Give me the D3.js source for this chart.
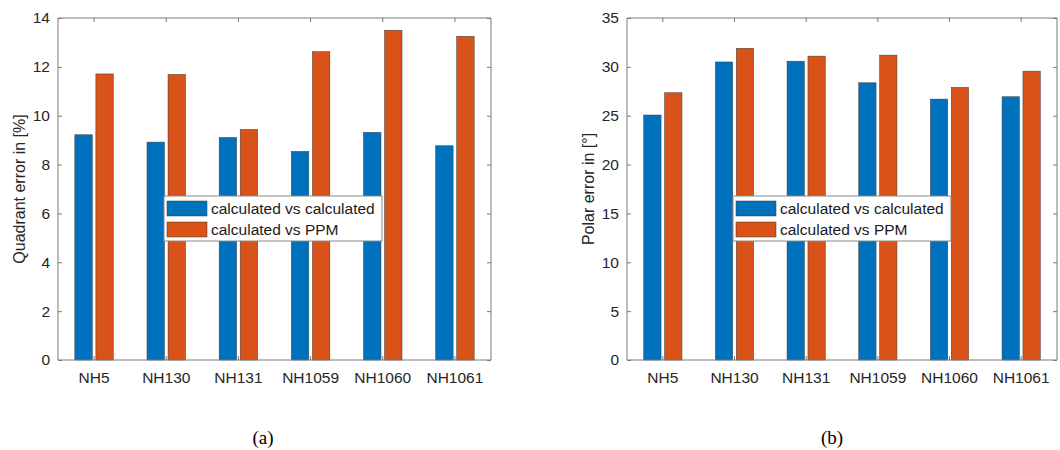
<!DOCTYPE html>
<html>
<head>
<meta charset="utf-8">
<script src="https://cdn.jsdelivr.net/npm/d3@7/dist/d3.min.js"></script>
<style>
  body { margin: 0; background: #fff; }
  svg text { font-family: "Liberation Sans", Arial, sans-serif; }
</style>
</head>
<body>
<svg id="chart" width="1060" height="450"></svg>
<script>
// --- data
const categories = ['NH5', 'NH130', 'NH131', 'NH1059', 'NH1060', 'NH1061'];
const seriesNames = ['calculated vs calculated', 'calculated vs PPM'];
const seriesColors = ['#0072BD', '#D95319'];

const quadrantCalc = [9.22, 8.92, 9.11, 8.54, 9.32, 8.77];
const quadrantPPM  = [11.71, 11.69, 9.44, 12.62, 13.50, 13.25];
const quadrantTicks = [0, 2, 4, 6, 8, 10, 12, 14];

const polarCalc = [25.07, 30.50, 30.58, 28.37, 26.70, 26.94];
const polarPPM  = [27.35, 31.90, 31.10, 31.20, 27.90, 29.56];
const polarTicks = [0, 5, 10, 15, 20, 25, 30, 35];

const svg = d3.select('#chart');

function panel(opts) {
  const top = 18, bottom = 360;
  const left = opts.left, right = opts.right;
  const g = svg.append('g');

  const x = d3.scaleBand().domain(categories).range([left, right]);
  const xs = d3.scaleBand().domain(d3.range(seriesNames.length))
      .range([0, x.bandwidth()]).paddingInner(0.17).paddingOuter(0.8);
  const y = d3.scaleLinear().domain([0, opts.max]).range([bottom, top]);

  const rows = categories.map((c, i) => ({c: c, v: [opts.a[i], opts.b[i]]}));

  // bars
  g.selectAll('g.grp').data(rows).enter().append('g')
      .attr('transform', d => `translate(${x(d.c)},0)`)
    .selectAll('rect').data(d => d.v).enter().append('rect')
      .attr('x', (d, i) => xs(i))
      .attr('width', xs.bandwidth())
      .attr('y', d => y(d))
      .attr('height', d => y(0) - y(d))
      .attr('fill', (d, i) => seriesColors[i])
      .attr('stroke', '#3a3a3a').attr('stroke-width', 0.5);

  const axisColor = '#7a7a7a';
  const tk = 4;
  // left axis
  const ya = g.append('g').attr('transform', `translate(${left},0)`)
      .call(d3.axisLeft(y).tickValues(opts.ticks).tickSize(-tk).tickPadding(8));
  // bottom axis
  const xa = g.append('g').attr('transform', `translate(0,${bottom})`)
      .call(d3.axisBottom(x).tickSize(-tk).tickPadding(12));
  // top & right mirror axes (ticks only)
  const ta = g.append('g').attr('transform', `translate(0,${top})`)
      .call(d3.axisTop(x).tickSize(-tk).tickFormat(''));
  const ra = g.append('g').attr('transform', `translate(${right},0)`)
      .call(d3.axisRight(y).tickValues(opts.ticks).tickSize(-tk).tickFormat(''));

  [ya, xa, ta, ra].forEach(a => {
    a.select('.domain').attr('stroke', axisColor).attr('stroke-width', 1);
    a.selectAll('.tick line').attr('stroke', axisColor);
    a.selectAll('.tick text').attr('fill', '#262626')
      .style('font-size', '15.5px').style('font-family', '"Liberation Sans", Arial, sans-serif');
  });
  // keep every box edge a plain straight line
  ra.select('.domain').attr('d', `M0,${top}V${bottom}`);
  ta.select('.domain').attr('d', `M${left},0H${right}`);
  ya.select('.domain').attr('d', `M0,${top}V${bottom}`);
  xa.select('.domain').attr('d', `M${left},0H${right}`);

  // y label
  g.append('text')
      .attr('transform', `translate(${opts.labelX},${(top + bottom) / 2}) rotate(-90)`)
      .attr('text-anchor', 'middle')
      .attr('dominant-baseline', 'central')
      .attr('fill', '#262626')
      .style('font-size', '16px')
      .text(opts.ylabel);

  // legend
  const lx = left + 106, ly = 196;
  const lg = g.append('g').attr('transform', `translate(${lx},${ly})`);
  lg.append('rect').attr('width', 218).attr('height', 45)
      .attr('fill', '#fff').attr('stroke', '#888').attr('stroke-width', 1);
  seriesNames.forEach((s, i) => {
    lg.append('rect').attr('x', 3).attr('y', 5 + i * 21).attr('width', 40).attr('height', 15)
        .attr('fill', seriesColors[i]).attr('stroke', '#3a3a3a').attr('stroke-width', 0.5);
    lg.append('text').attr('x', 47).attr('y', 12.5 + i * 21)
        .attr('dominant-baseline', 'central').attr('fill', '#1a1a1a')
        .style('font-size', '15.5px').text(s);
  });

  // caption
  svg.append('text')
      .attr('x', opts.capX).attr('y', 437)
      .attr('text-anchor', 'middle').attr('dominant-baseline', 'central')
      .style('font-family', '"Liberation Serif", "Times New Roman", serif')
      .style('font-size', '19px').attr('fill', '#000')
      .text(opts.caption);
}

panel({left: 58, right: 491, max: 14, ticks: quadrantTicks, a: quadrantCalc, b: quadrantPPM,
       ylabel: 'Quadrant error in [%]', labelX: 19, caption: '(a)', capX: 263});
panel({left: 627, right: 1057, max: 35, ticks: polarTicks, a: polarCalc, b: polarPPM,
       ylabel: 'Polar error in [°]', labelX: 588, caption: '(b)', capX: 832});
</script>
</body>
</html>
